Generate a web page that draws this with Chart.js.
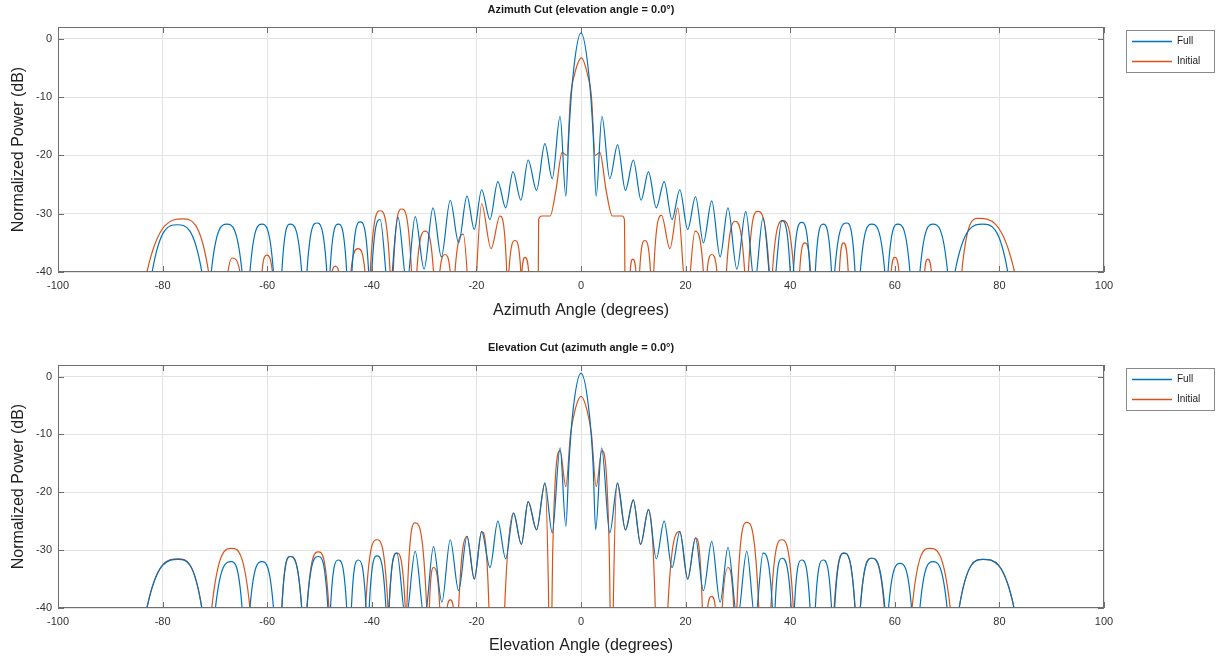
<!DOCTYPE html>
<html>
<head>
<meta charset="utf-8">
<script src="https://cdn.jsdelivr.net/npm/chart.js@4.4.0/dist/chart.umd.min.js"></script>
<style>
  body { margin: 0; background: #fff; }
  .wrap { position: absolute; left: 0; width: 1217px; }
</style>
</head>
<body>
<div class="wrap" style="top:0;height:330px"><canvas id="az"></canvas></div>
<div class="wrap" style="top:330px;height:327px"><canvas id="el"></canvas></div>
<script>
// tick labels
const xTicks = [-100, -80, -60, -40, -20, 0, 20, 40, 60, 80, 100];
const yTicks = [-40, -30, -20, -10, 0];
const seriesNames = ['Full', 'Initial'];

// [angle (deg), power (dB)]; -70 = null below the axis
const azFull = [[-83.0,-70],[-82.0,-40],[-77.2,-31.9],[-72.5,-40],[-71.6,-70],[-70.7,-40],[-67.7,-31.8],[-64.8,-40],[-64.0,-70],[-63.3,-40],[-61.0,-31.8],[-58.8,-40],[-58.0,-70],[-57.2,-40],[-55.6,-31.8],[-53.4,-40],[-52.9,-70],[-52.4,-40],[-50.5,-31.6],[-48.6,-40],[-48.3,-70],[-48.0,-40],[-46.4,-31.8],[-44.8,-40],[-44.3,-70],[-43.8,-40],[-42.2,-31.4],[-40.6,-40],[-40.3,-70],[-40.0,-40],[-38.4,-31.0],[-36.7,-44],[-35.0,-30.6],[-33.3,-42],[-31.7,-30.5],[-30.0,-39.5],[-28.3,-29.0],[-26.7,-37.4],[-25.0,-27.7],[-23.4,-35.0],[-21.8,-27.0],[-20.4,-32.7],[-19.0,-25.9],[-17.4,-31.0],[-15.9,-24.5],[-14.4,-29.0],[-13.0,-22.8],[-11.5,-27.7],[-10.1,-20.8],[-8.5,-26.0],[-6.9,-18.0],[-5.5,-24.0],[-4.0,-13.3],[-2.9,-27.0],[-2.3,-16.0],[-1.6,-7.0],[0,1.0],[1.6,-7.0],[2.3,-16.0],[2.9,-27.0],[4.0,-13.3],[5.5,-24.0],[7.0,-18.2],[8.5,-26.0],[10.0,-20.8],[11.5,-27.7],[12.9,-22.8],[14.4,-29.0],[15.9,-24.5],[17.4,-31.0],[18.9,-25.9],[20.4,-32.7],[21.9,-27.1],[23.4,-35.0],[25.0,-27.8],[26.6,-37.4],[28.1,-29.0],[29.8,-39.5],[31.5,-29.6],[33.2,-42],[34.8,-30.7],[36.6,-44],[38.4,-31.2],[40.0,-40],[40.3,-70],[40.6,-40],[42.2,-31.5],[43.8,-40],[44.3,-70],[44.8,-40],[46.3,-31.8],[47.9,-40],[48.2,-70],[48.5,-40],[50.8,-31.6],[52.4,-40],[52.9,-70],[53.4,-40],[55.6,-31.8],[58.1,-40],[58.4,-70],[58.7,-40],[60.6,-31.8],[62.9,-40],[63.8,-70],[64.8,-40],[67.3,-31.8],[70.1,-40],[70.8,-70],[71.5,-40],[76.8,-31.8],[81.6,-40],[82.5,-70]];

const azInitial = [[-84.0,-70],[-83.0,-40],[-76.1,-30.9],[-71.2,-40],[-70.5,-70],[-67.5,-40],[-66.7,-37.6],[-65.2,-40],[-64.5,-70],[-61.5,-70],[-61.0,-40],[-60.1,-37.1],[-59.0,-40],[-58.4,-70],[-48.2,-70],[-47.6,-40],[-47.0,-39.0],[-46.3,-40],[-45.6,-70],[-44.4,-70],[-44.0,-40],[-42.6,-36.0],[-41.3,-40],[-40.8,-70],[-40.3,-40],[-38.4,-29.5],[-36.5,-40],[-36.2,-70],[-35.9,-40],[-34.3,-29.2],[-32.4,-40],[-31.9,-70],[-31.4,-40],[-29.8,-33.0],[-28.2,-40],[-27.6,-70],[-27.0,-40],[-26.0,-37.0],[-25.0,-40],[-24.6,-70],[-24.1,-40],[-22.5,-33.5],[-20.8,-50],[-19.0,-28.3],[-17.2,-36],[-15.5,-30.4],[-14.2,-40],[-14.0,-70],[-13.8,-40],[-12.6,-34.6],[-11.5,-40],[-11.4,-70],[-11.3,-40],[-10.7,-37.5],[-10.0,-40],[-9.5,-70],[-8.4,-70],[-8.1,-31],[-7.5,-30.4],[-5.9,-30.4],[-4.8,-26],[-3.6,-19.5],[-2.7,-20],[-2.0,-10],[-1.2,-6],[0.1,-3.3],[1.2,-6],[2.0,-10],[2.7,-20],[3.6,-19.5],[4.8,-26],[6.0,-30.4],[7.9,-30.4],[8.3,-31],[8.6,-70],[9.1,-70],[9.4,-40],[9.9,-37.8],[10.5,-40],[10.8,-70],[11.2,-40],[12.2,-34.6],[13.3,-40],[13.6,-70],[13.9,-40],[15.4,-30.3],[17.0,-36],[18.5,-29.0],[20.2,-45],[21.8,-33.0],[23.4,-40],[23.7,-70],[24.1,-40],[25.0,-37.0],[26.0,-40],[26.5,-70],[27.8,-40],[29.4,-31.3],[31.3,-40],[31.6,-70],[32.0,-40],[33.8,-29.6],[36.0,-40],[36.3,-70],[36.6,-40],[38.6,-31.2],[40.7,-40],[41.1,-70],[41.8,-40],[42.8,-35.0],[43.9,-40],[44.3,-70],[49.0,-70],[49.4,-40],[50.2,-35.0],[51.1,-40],[51.5,-70],[58.8,-70],[59.3,-40],[60.0,-37.5],[60.8,-40],[61.2,-70],[65.3,-70],[65.7,-40],[66.3,-37.8],[67.0,-40],[67.4,-70],[72.4,-70],[72.8,-40],[75.9,-30.8],[82.9,-40],[83.6,-70]];

const elFull = [[-83.6,-70],[-83.0,-40],[-77.0,-31.6],[-72.5,-40],[-71.2,-70],[-69.9,-40],[-66.9,-32.0],[-64.8,-40],[-64.0,-70],[-63.3,-40],[-61.0,-32.0],[-58.8,-40],[-58.0,-70],[-57.2,-40],[-55.6,-31.1],[-53.4,-40],[-52.9,-70],[-52.4,-40],[-50.2,-31.1],[-48.4,-40],[-48.1,-70],[-47.9,-40],[-46.4,-31.7],[-44.8,-40],[-44.3,-70],[-43.9,-40],[-42.6,-31.7],[-41.1,-40],[-40.8,-70],[-40.5,-40],[-39.0,-31.0],[-37.3,-40],[-37.0,-70],[-36.7,-40],[-35.2,-30.5],[-33.5,-42],[-31.7,-30.2],[-29.9,-42],[-28.2,-29.4],[-26.6,-39],[-25.0,-28.2],[-23.4,-37],[-21.8,-27.6],[-20.4,-35],[-19.0,-26.8],[-17.4,-33],[-15.9,-25.0],[-14.4,-31.5],[-12.9,-23.6],[-11.4,-29],[-10.1,-21.6],[-8.5,-26.5],[-6.9,-18.4],[-5.5,-27],[-4.0,-12.3],[-2.9,-25.9],[-2.3,-15],[-1.6,-6.5],[0,0.6],[1.6,-6.5],[2.3,-15],[2.8,-26.5],[3.95,-12.3],[5.5,-27],[7.0,-18.4],[8.5,-26.5],[10.0,-21.3],[11.4,-29],[12.9,-23.0],[14.4,-31.5],[15.9,-25.0],[17.4,-33],[18.9,-26.8],[20.4,-35],[21.9,-27.9],[23.4,-37],[25.0,-28.5],[26.6,-39],[28.1,-29.5],[29.9,-42],[31.7,-30.2],[33.3,-42],[34.8,-30.5],[36.6,-40],[36.9,-70],[37.1,-40],[38.4,-31.4],[40.2,-40],[40.5,-70],[40.8,-40],[42.2,-31.7],[43.8,-40],[44.3,-70],[44.8,-40],[46.3,-31.7],[47.9,-40],[48.2,-70],[48.5,-40],[50.3,-30.5],[52.4,-40],[52.9,-70],[53.4,-40],[55.6,-31.4],[58.1,-40],[58.4,-70],[58.8,-40],[61.0,-32.3],[63.2,-40],[63.9,-70],[64.8,-40],[67.3,-32.0],[70.0,-40],[71.0,-70],[72.3,-40],[76.9,-31.6],[82.8,-40],[83.5,-70]];

const elInitial = [[-83.6,-70],[-83.0,-40],[-77.0,-31.5],[-72.5,-40],[-71.6,-70],[-70.6,-40],[-66.8,-29.7],[-63.3,-40],[-62.5,-70],[-58.0,-70],[-57.2,-40],[-55.6,-31.1],[-53.4,-40],[-52.9,-70],[-52.4,-40],[-50.2,-30.3],[-48.2,-40],[-47.8,-70],[-41.6,-70],[-41.2,-40],[-39.0,-28.2],[-36.9,-40],[-36.8,-60],[-36.7,-40],[-35.2,-30.5],[-33.6,-40],[-33.45,-60],[-33.3,-40],[-31.7,-25.3],[-29.5,-40],[-29.25,-60],[-29.0,-40],[-28.2,-33],[-27.0,-40],[-26.5,-60],[-25.6,-40],[-25.0,-38.6],[-24.4,-40],[-24.0,-60],[-23.4,-40],[-21.8,-27.6],[-20.4,-35],[-19.0,-26.8],[-17.6,-40],[-17.0,-70],[-15.5,-70],[-14.6,-40],[-12.9,-23.6],[-11.4,-29],[-10.1,-21.6],[-8.5,-26.5],[-6.9,-18.4],[-6.2,-38],[-5.9,-60],[-5.4,-30],[-4.0,-12.8],[-2.9,-19],[-2.0,-10],[-1.2,-6],[0,-3.4],[1.2,-6],[2.0,-10],[2.9,-19],[4.0,-12.8],[5.4,-30],[5.9,-60],[6.2,-38],[6.9,-18.4],[8.5,-26.5],[10.0,-21.3],[11.4,-29],[12.9,-23.0],[14.2,-40],[14.8,-70],[16.0,-70],[16.6,-40],[18.9,-26.8],[20.4,-35],[21.9,-27.9],[23.2,-40],[23.6,-60],[24.2,-40],[25.0,-38],[25.7,-40],[26.2,-60],[27.0,-40],[28.1,-33],[29.2,-40],[29.5,-60],[29.8,-40],[31.7,-25.2],[34.0,-40],[34.3,-60],[36.0,-60],[36.3,-40],[38.4,-28.2],[40.6,-40],[41.0,-70],[48.0,-70],[48.4,-40],[50.3,-30.5],[52.4,-40],[52.9,-70],[53.4,-40],[55.6,-31.4],[58.0,-40],[58.5,-70],[62.8,-70],[63.3,-40],[66.7,-29.7],[70.6,-40],[71.4,-70],[72.3,-40],[76.9,-31.6],[82.8,-40],[83.5,-70]];

const BLUE = 'rgb(0,114,189)';
const ORANGE = 'rgb(217,83,25)';
const FONT = '"Liberation Sans", Arial, sans-serif';

const toPoints = arr => arr.map(p => ({ x: p[0], y: p[1] }));

// box, inward ticks, title and legend drawn like a MATLAB axes
const matlabAxes = {
    id: 'matlabAxes',
    afterDraw(chart, args, opts) {
        const { ctx, chartArea: a, scales: { x, y } } = chart;
        ctx.save();
        ctx.strokeStyle = '#6e6e6e';
        ctx.lineWidth = 1;
        ctx.strokeRect(a.left + 0.5, a.top + 0.5, a.width - 1, a.height - 1);
        ctx.beginPath();
        xTicks.forEach(v => {
            const px = Math.round(x.getPixelForValue(v)) + 0.5;
            ctx.moveTo(px, a.bottom); ctx.lineTo(px, a.bottom - 6);
            ctx.moveTo(px, a.top); ctx.lineTo(px, a.top + 6);
        });
        yTicks.forEach(v => {
            const py = Math.round(y.getPixelForValue(v)) + 0.5;
            ctx.moveTo(a.left, py); ctx.lineTo(a.left + 6, py);
            ctx.moveTo(a.right, py); ctx.lineTo(a.right - 6, py);
        });
        ctx.stroke();

        ctx.fillStyle = '#1a1a1a';
        ctx.font = 'bold 11px ' + FONT;
        ctx.textAlign = 'center';
        ctx.textBaseline = 'middle';
        ctx.fillText(opts.title, (a.left + a.right) / 2, a.top - 17);

        // legend
        const lx = 1126, ly = a.top + 3;
        ctx.fillStyle = '#fff';
        ctx.fillRect(lx, ly, 88, 42);
        ctx.strokeStyle = '#8a8a8a';
        ctx.strokeRect(lx + 0.5, ly + 0.5, 88, 42);
        ctx.font = '10px ' + FONT;
        ctx.textAlign = 'left';
        [BLUE, ORANGE].forEach((c, i) => {
            const yy = ly + 11.5 + i * 20;
            ctx.strokeStyle = c;
            ctx.lineWidth = 1.3;
            ctx.beginPath(); ctx.moveTo(lx + 6, yy); ctx.lineTo(lx + 46, yy); ctx.stroke();
            ctx.fillStyle = '#222';
            ctx.fillText(seriesNames[i], lx + 51, yy);
        });
        ctx.restore();
    }
};

function makeChart(id, title, xLabel, full, initial, padTop, padBottom, xHeight) {
    const ctx = document.getElementById(id).getContext('2d');
    return new Chart(ctx, {
        type: 'line',
        data: {
            datasets: [
                { label: seriesNames[0], data: toPoints(full), borderColor: BLUE },
                { label: seriesNames[1], data: toPoints(initial), borderColor: ORANGE }
            ]
        },
        options: {
            responsive: true,
            maintainAspectRatio: false,
            animation: false,
            layout: { padding: { left: 0, right: 113, top: padTop, bottom: padBottom } },
            elements: {
                point: { radius: 0 },
                line: { borderWidth: 1.2, cubicInterpolationMode: 'monotone' }
            },
            plugins: {
                legend: { display: false },
                tooltip: { enabled: false },
                matlabAxes: { title: title }
            },
            scales: {
                x: {
                    type: 'linear', min: -100, max: 100,
                    afterBuildTicks: s => { s.ticks = xTicks.map(v => ({ value: v })); },
                    afterFit: s => { s.height = xHeight; },
                    grid: { color: '#e3e3e3', drawTicks: false },
                    border: { display: false },
                    ticks: { color: '#333', font: { family: FONT, size: 11 }, padding: 7, maxRotation: 0 },
                    title: { display: true, text: xLabel, color: '#222', font: { family: FONT, size: 16 }, padding: { top: 4, bottom: 2 } }
                },
                y: {
                    type: 'linear', min: -40, max: 2,
                    afterBuildTicks: s => { s.ticks = yTicks.map(v => ({ value: v })); },
                    afterFit: s => { s.width = 58; },
                    grid: { color: '#e3e3e3', drawTicks: false },
                    border: { display: false },
                    ticks: { color: '#333', font: { family: FONT, size: 11 }, padding: 6 },
                    title: { display: true, text: 'Normalized Power (dB)', color: '#222', font: { family: FONT, size: 16 }, padding: { top: 9, bottom: 0 } }
                }
            }
        },
        plugins: [matlabAxes]
    });
}

makeChart('az', 'Azimuth Cut (elevation angle = 0.0\u00b0)', 'Azimuth Angle (degrees)', azFull, azInitial, 27, 8, 50);
makeChart('el', 'Elevation Cut (azimuth angle = 0.0\u00b0)', 'Elevation Angle (degrees)', elFull, elInitial, 35, 0, 49);
</script>
</body>
</html>
